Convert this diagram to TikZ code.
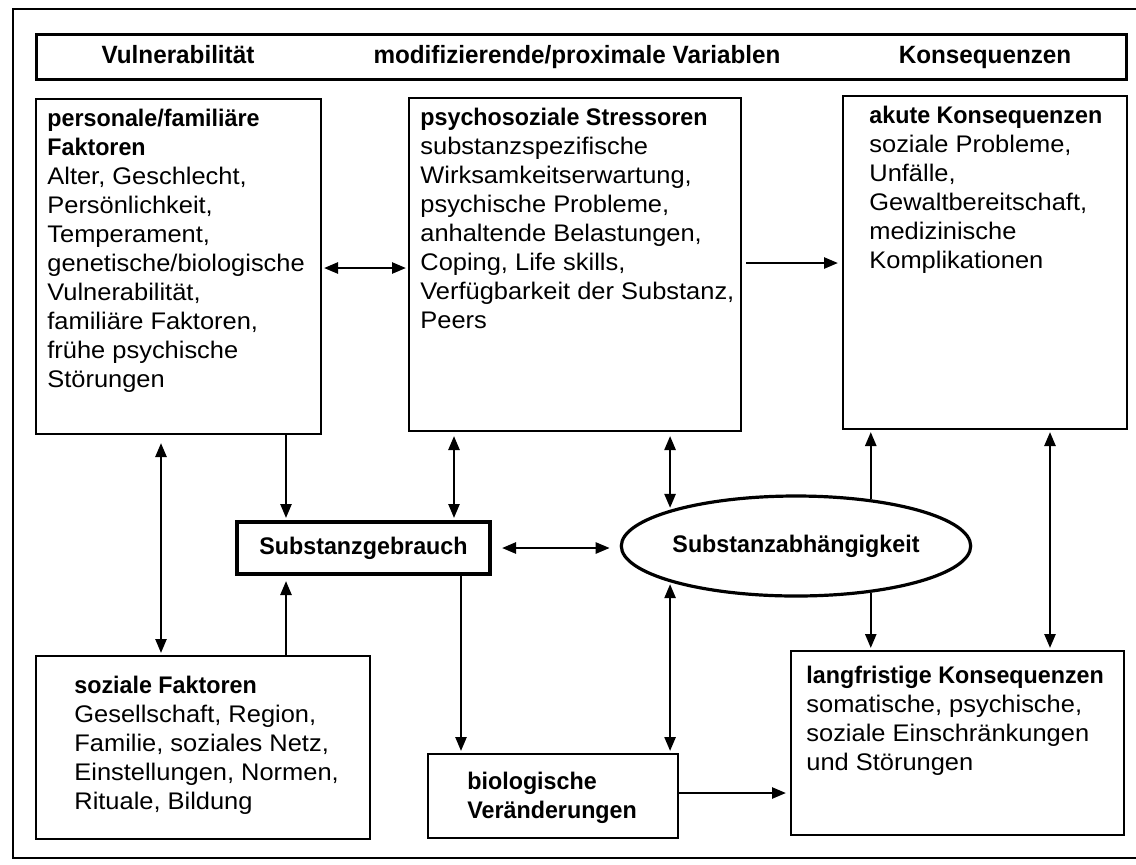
\documentclass[tikz,border=0pt]{standalone}
\usepackage{fontspec}
\setmainfont{Liberation Sans}[FakeStretch=1.06]
\newfontfamily\kopffont{Liberation Sans}[FakeStretch=0.97]
\usetikzlibrary{arrows.meta,shapes.geometric}
\newcommand{\kopf}[1]{{\kopffont\bfseries #1}}

\begin{document}
\begin{tikzpicture}[x=0.5pt,y=-0.5pt,
  kasten/.style={draw=black, line width=1pt, inner sep=0pt, anchor=north west},
  inhalt/.style={inner sep=0pt, anchor=north west, align=left, font=\fontsize{12}{14.5}\selectfont},
  titel/.style={inner sep=0pt, anchor=base, font=\kopffont\bfseries\fontsize{12.5}{14}\selectfont},
  pfeil/.style={line width=1.25pt, -{Triangle[length=7pt,width=5.5pt]}, shorten >=1pt},
  doppel/.style={line width=1.25pt, {Triangle[length=7pt,width=5.5pt]}-{Triangle[length=7pt,width=5.5pt]}, shorten >=1pt, shorten <=1pt}]
\useasboundingbox (0,0) rectangle (1136,864);
\draw [black, line width=0.8pt] (13,9) rectangle (1150,858);

\node [kasten, line width=1.4pt, minimum width=545pt, minimum height=22.5pt] (leiste) at (35,33) {};
\node [titel] (vul) at (178,63) {Vulnerabilität};
\node [titel] (mod) at (577,63) {modifizierende/proximale Variablen};
\node [titel] (kon) at (985,63) {Konsequenzen};

\node [kasten, minimum width=142.5pt, minimum height=167.5pt] (pf) at (35,98) {};
\node [inhalt] (pftext) at ([xshift=6pt]pf.north west) {\rule{0pt}{14pt}\kopf{personale/familiäre}\\\kopf{Faktoren}\\Alter, Geschlecht,\\Persönlichkeit,\\Temperament,\\genetische/biologische\\Vulnerabilität,\\familiäre Faktoren,\\frühe psychische\\Störungen};

\node [kasten, minimum width=166pt, minimum height=166.5pt] (ps) at (408,97) {};
\node [inhalt] (pstext) at ([xshift=6pt]ps.north west) {\rule{0pt}{14pt}\kopf{psychosoziale Stressoren}\\substanzspezifische\\Wirksamkeitserwartung,\\psychische Probleme,\\anhaltende Belastungen,\\Coping, Life skills,\\Verfügbarkeit der Substanz,\\Peers};

\node [kasten, minimum width=142pt, minimum height=166.5pt] (ak) at (842,95) {};
\node [inhalt] (aktext) at ([xshift=13.5pt]ak.north west) {\rule{0pt}{14pt}\kopf{akute Konsequenzen}\\soziale Probleme,\\Unfälle,\\Gewaltbereitschaft,\\medizinische\\Komplikationen};

\node [draw=black, line width=2pt, inner sep=0pt, minimum width=126.5pt, minimum height=26pt, font=\kopffont\bfseries\fontsize{12}{13}\selectfont] (sg) at (363.5,548) {Substanzgebrauch};
\node [ellipse, draw=black, line width=1.6pt, inner sep=0pt, minimum width=163pt, minimum height=50pt, font=\kopffont\bfseries\fontsize{12}{13}\selectfont] (sa) at (796,546) {Substanzabhängigkeit};

\node [kasten, minimum width=167pt, minimum height=91.5pt] (sf) at (35,655) {};
\node [inhalt] (sftext) at ([xshift=19.5pt]sf.north west) {\rule{0pt}{19pt}\kopf{soziale Faktoren}\\Gesellschaft, Region,\\Familie, soziales Netz,\\Einstellungen, Normen,\\Rituale, Bildung};

\node [kasten, minimum width=125pt, minimum height=42pt] (bio) at (427,753) {};
\node [inhalt] (biotext) at ([xshift=20pt]bio.north west) {\rule{0pt}{18pt}\kopf{biologische}\\\kopf{Veränderungen}};

\node [kasten, minimum width=166.5pt, minimum height=92pt] (lk) at (790,650) {};
\node [inhalt] (lktext) at ([xshift=8pt]lk.north west) {\rule{0pt}{16.5pt}\kopf{langfristige Konsequenzen}\\somatische, psychische,\\soziale Einschränkungen\\und Störungen};

\coordinate (x161) at (161,0);
\coordinate (x286) at (286,0);
\coordinate (x454) at (454,0);
\coordinate (x461) at (461,0);
\coordinate (x1050) at (1050,0);
\coordinate (y263) at (0,263);
\coordinate (y270) at (0,268);
\coordinate (y793) at (0,793);

\draw [doppel] (pf.east |- y270) -- (ps.west |- y270);
\draw [pfeil, shorten <=2pt, shorten >=2pt] (ps.east |- y263) -- (ak.west |- y263);
\draw [doppel, shorten <=4pt] (pf.south -| x161) -- (sf.north -| x161);
\draw [pfeil] (pf.south -| x286) -- (sg.north -| x286);
\draw [pfeil, shorten >=2.5pt] (sf.north -| x286) -- (sg.south -| x286);
\draw [doppel, shorten <=2pt] (ps.south -| x454) -- (sg.north -| x454);
\draw [pfeil] (sg.south -| x461) -- (bio.north -| x461);
\draw [doppel, shorten <=5pt, shorten >=5pt] (sg.east) -- (sa.west |- sg.east);
\draw [doppel, shorten <=2pt] (ps.south -| sa.164) -- (sa.164);
\draw [doppel] (bio.north -| sa.196) -- (sa.196);
\draw [pfeil] (sa.32) -- (ak.south -| sa.32);
\draw [pfeil] (sa.328) -- (lk.north -| sa.328);
\draw [doppel] (ak.south -| x1050) -- (lk.north -| x1050);
\draw [pfeil, shorten >=2pt] (bio.east |- y793) -- (lk.west |- y793);
\end{tikzpicture}
\end{document}
